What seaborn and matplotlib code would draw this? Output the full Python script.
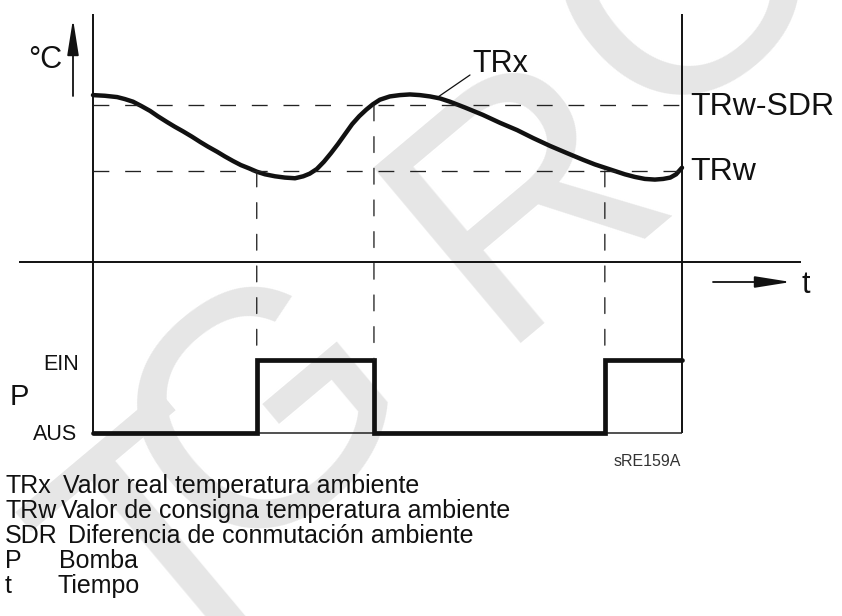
import matplotlib
matplotlib.use("Agg")
import matplotlib.pyplot as plt
import seaborn as sns
from matplotlib.patches import ConnectionPatch

# room temperature TRx (time 0..10, TRw = 20, TRw-SDR = 21)
time_trx = [0.00, 0.20, 0.41, 0.54, 0.68, 0.83, 0.97, 1.10, 1.26, 1.39,
            1.53, 1.68, 1.82, 1.95, 2.11, 2.24, 2.38, 2.51, 2.65, 2.78,
            2.92, 3.09, 3.26, 3.43, 3.57, 3.68, 3.80, 3.92, 4.04, 4.16,
            4.28, 4.40, 4.52, 4.64, 4.75, 4.87, 5.04, 5.21, 5.38, 5.55,
            5.72, 5.89, 6.06, 6.32, 6.62, 6.91, 7.20, 7.47, 7.76, 8.05,
            8.32, 8.52, 8.69, 8.86, 9.03, 9.20, 9.37, 9.54, 9.68, 9.80,
            9.90, 10.00]
temp_trx = [21.15, 21.14, 21.12, 21.09, 21.05, 20.98, 20.91, 20.83, 20.74, 20.67,
            20.60, 20.52, 20.44, 20.37, 20.29, 20.22, 20.15, 20.09, 20.04, 19.99,
            19.95, 19.92, 19.90, 19.89, 19.92, 19.96, 20.03, 20.14, 20.27, 20.41,
            20.56, 20.71, 20.83, 20.93, 21.01, 21.08, 21.13, 21.15, 21.16, 21.15,
            21.13, 21.10, 21.05, 20.96, 20.85, 20.73, 20.62, 20.50, 20.38, 20.27,
            20.17, 20.10, 20.05, 20.00, 19.95, 19.91, 19.88, 19.87, 19.88, 19.90,
            19.95, 20.05]
TRW = 20.0
TRW_SDR = 21.0

# pump P switching (AUS = 0, EIN = 1)
switch_times = [0.0, 2.78, 4.77, 8.69, 10.0]
pump_state = [0, 1, 0, 1, 1]
switch_levels = [TRW, TRW_SDR, TRW]

legend_keys = ["TRx", "TRw", "SDR", "P", "t"]
legend_texts = ["Valor real temperatura ambiente",
                "Valor de consigna temperatura ambiente",
                "Diferencia de conmutación ambiente",
                "Bomba",
                "Tiempo"]

sns.set_style("white")
plt.rcParams["font.family"] = ["Liberation Sans", "DejaVu Sans"]

W, H = 842, 616
fig = plt.figure(figsize=(W / 100, H / 100), dpi=100)

# pixel-space layer for frame, arrows, labels and watermark
deco = fig.add_axes([0, 0, 1, 1])
deco.set_xlim(0, W)
deco.set_ylim(H, 0)
deco.set_axis_off()

wm = dict(color="#e6e6e6", fontsize=240, rotation=40, rotation_mode="anchor",
          ha="center", va="baseline", family="Liberation Sans", zorder=0)
for letter, (x, y) in zip("TGRO", [(233, 622), (327, 486), (586, 266), (751, 52)]):
    deco.text(x, y, letter, **wm)


def frac(x0, y_top, w, h):
    return [x0 / W, 1 - (y_top + h) / H, w / W, h / H]


# temperature panel
ax = fig.add_axes(frac(93, 105, 589, 66))
sns.lineplot(x=time_trx, y=temp_trx, ax=ax, color="#111111", linewidth=3.2,
             sort=False, estimator=None, solid_capstyle="round",
             solid_joinstyle="round")
ax.hlines([TRW, TRW_SDR], 0, 10, colors="#222222", linewidth=0.95,
          linestyles=[(0, (12, 12))])
ax.set_xlim(0, 10)
ax.set_ylim(TRW, TRW_SDR)
ax.set_axis_off()

# pump panel
axp = fig.add_axes(frac(93, 360, 589, 73))
axp.hlines(0, 0, 10, colors="#222222", linewidth=1.1)
sns.lineplot(x=switch_times, y=pump_state, ax=axp, color="#111111", linewidth=3.4,
             drawstyle="steps-post", estimator=None, solid_joinstyle="miter")
axp.set_xlim(0, 10)
axp.set_ylim(0, 1)
axp.set_axis_off()

for a in (ax, axp):
    for art in a.lines + a.collections:
        art.set_clip_on(False)

# dashed drop lines from the switching points to the pump signal
for t, lvl in zip(switch_times[1:4], switch_levels):
    con = ConnectionPatch(xyA=(t, lvl), coordsA=ax.transData,
                          xyB=(t, 1), coordsB=axp.transData,
                          color="#222222", linewidth=0.95, linestyle=(0, (12, 12)))
    fig.add_artist(con)

# frame and time axis
deco.vlines([93, 682], 14, 433, colors="#111111", linewidth=1.4)
deco.hlines(262, 19, 801, colors="#111111", linewidth=1.4)

arrow = dict(arrowstyle="-|>,head_length=2.2,head_width=0.35", color="#111111",
             lw=1.3, mutation_scale=10, shrinkA=0, shrinkB=0)
deco.annotate("", xy=(73, 19), xytext=(73, 96), arrowprops=arrow)
deco.annotate("", xy=(791, 282), xytext=(713, 282), arrowprops=arrow)
deco.plot([438, 470], [97, 75], color="#111111", linewidth=0.9)

lab = dict(color="#111111", va="baseline")
deco.text(62, 68, "°C", ha="right", fontsize=22, **lab)
deco.text(801, 293, "t", ha="left", fontsize=22, **lab)
deco.text(472, 72, "TRx", ha="left", fontsize=22, **lab)
deco.text(690, 115, "TRw-SDR", ha="left", fontsize=23, **lab)
deco.text(690, 180, "TRw", ha="left", fontsize=23, **lab)
deco.text(43, 370, "EIN", ha="left", fontsize=15.5, **lab)
deco.text(10, 405, "P", ha="left", fontsize=21, **lab)
deco.text(33, 440, "AUS", ha="left", fontsize=15.5, **lab)
deco.text(681, 466, "sRE159A", ha="right", fontsize=11.5, color="#333333", va="baseline")

desc_x = [63, 61, 68, 59, 58]
for i, (key, txt) in enumerate(zip(legend_keys, legend_texts)):
    y = 493 + 25 * i
    deco.text(5, y, key, ha="left", va="baseline", fontsize=18, color="#111111")
    deco.text(desc_x[i], y, txt, ha="left", va="baseline", fontsize=18,
              color="#111111")

fig.savefig("out.png", dpi=100, facecolor="white")
